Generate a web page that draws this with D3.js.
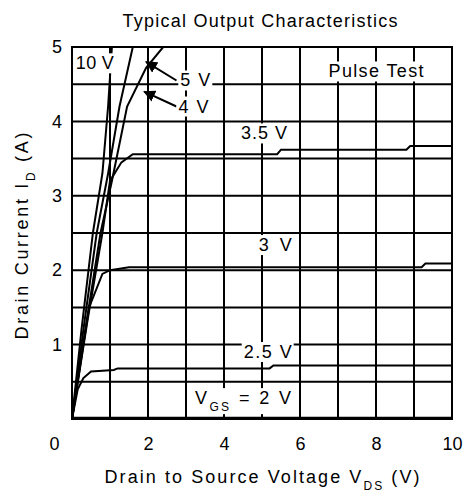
<!DOCTYPE html>
<html><head><meta charset="utf-8">
<script src="https://cdn.jsdelivr.net/npm/d3@7"></script>
<style>
html,body{margin:0;padding:0;background:#fff;}
text{font-family:"Liberation Sans",Arial,sans-serif;fill:#000;}
</style></head>
<body><div id="chart"></div>
<script>
const title = "Typical Output Characteristics";
const xTicks = [0, 2, 4, 6, 8, 10];
const yTicks = [1, 2, 3, 4, 5];
const xGrid = [0,1,2,3,4,5,6,7,8,9,10];
const yGrid = [0,0.5,1,1.5,2,2.5,3,3.5,4,4.5,5];

const seriesNames = ["10 V", "5 V", "4 V", "3.5 V", "3 V", "2.5 V", "2 V"];
const vds10 = [0, 0.25, 0.55, 0.8, 0.95, 1.05];
const id10  = [0, 1.2, 2.5, 3.3, 4.2, 5.0];
const vds5 = [0, 0.3, 0.65, 0.95, 1.25, 1.6];
const id5  = [0, 1.2, 2.5, 3.3, 4.2, 5.0];
const vds4 = [0, 0.35, 0.75, 1.05, 1.45, 1.95, 2.4];
const id4  = [0, 1.2, 2.5, 3.2, 4.2, 4.72, 5.0];
const vds35 = [0, 0.4, 0.8, 1.0, 1.3, 1.6, 5.4, 5.5, 8.8, 8.9, 10];
const id35  = [0, 1.3, 2.5, 3.2, 3.45, 3.56, 3.56, 3.62, 3.62, 3.67, 3.67];
const vds3 = [0, 0.45, 0.8, 1.0, 1.5, 9.2, 9.3, 10];
const id3  = [0, 1.5, 1.95, 2.0, 2.04, 2.04, 2.09, 2.09];
const vds25 = [0, 0.15, 0.3, 0.5, 1.1, 1.2, 5.2, 5.3, 10];
const id25  = [0, 0.4, 0.55, 0.64, 0.66, 0.68, 0.68, 0.72, 0.72];
const vds2 = [0, 10];
const id2  = [0.01, 0.01];

const W = 464, H = 492;
const svg = d3.select("#chart").append("svg").attr("width", W).attr("height", H);
const x = d3.scaleLinear().domain([0, 10]).range([72, 452]);
const y = d3.scaleLinear().domain([0, 5]).range([419, 47]);

// grid
svg.append("g").selectAll("line.v").data(xGrid).join("line")
  .attr("x1", d => x(d)).attr("x2", d => x(d)).attr("y1", y(0)).attr("y2", y(5))
  .attr("stroke", "#000").attr("stroke-width", 2);
svg.append("g").selectAll("line.h").data(yGrid).join("line")
  .attr("y1", d => y(d)).attr("y2", d => y(d)).attr("x1", x(0)).attr("x2", x(10))
  .attr("stroke", "#000").attr("stroke-width", 2);

// axes (labels only)
const xAxis = svg.append("g").attr("transform", `translate(0,${y(0)})`)
  .call(d3.axisBottom(x).tickValues(xTicks).tickSize(0).tickPadding(18).tickFormat(d3.format("d")));
xAxis.select(".domain").remove();
xAxis.selectAll("text").style("font-size", "18px").attr("font-family", "Liberation Sans, Arial");
xAxis.selectAll(".tick").filter(d => d === 0).select("text").attr("dx", -18);
const yAxis = svg.append("g").attr("transform", `translate(${x(0)},0)`)
  .call(d3.axisLeft(y).tickValues(yTicks).tickSize(0).tickPadding(10).tickFormat(d3.format("d")));
yAxis.select(".domain").remove();
yAxis.selectAll("text").style("font-size", "18px");

// labels with white background helper
function label(txt, cx, by, opts = {}) {
  const g = svg.append("g");
  const t = g.append("text").attr("x", cx).attr("y", by).attr("text-anchor", opts.anchor || "middle")
    .style("font-size", (opts.size || 17) + "px");
  if (Array.isArray(txt)) {
    txt.forEach(p => {
      const ts = t.append("tspan").text(p.t);
      if (p.sub) ts.attr("baseline-shift", "sub").style("font-size", "12px");
    });
  } else t.text(txt);
  if (opts.len) t.attr("textLength", opts.len).attr("lengthAdjust", "spacing");
  if (opts.bg) {
    const b = t.node().getBBox();
    g.insert("rect", "text").attr("x", b.x - 2).attr("y", b.y).attr("width", b.width + 4)
      .attr("height", b.height).attr("fill", "#fff");
  }
  return g;
}

// curves
const line = d3.line().x(d => x(d[0])).y(d => y(d[1]));
const seriesData = [[vds10, id10], [vds5, id5], [vds4, id4], [vds35, id35], [vds3, id3], [vds25, id25], [vds2, id2]];
svg.append("defs").append("clipPath").attr("id", "clip").append("rect")
  .attr("x", x(0)).attr("y", y(5)).attr("width", x(10) - x(0)).attr("height", y(0) - y(5));
svg.append("g").attr("clip-path", "url(#clip)").selectAll("path").data(seriesData).join("path")
  .attr("d", s => line(s[0].map((v, i) => [v, s[1][i]])))
  .attr("fill", "none").attr("stroke", "#000").attr("stroke-width", (d, i) => i === 6 ? 3 : 2);

// border
svg.append("rect").attr("x", x(0)).attr("y", y(5)).attr("width", x(10) - x(0)).attr("height", y(0) - y(5))
  .attr("fill", "none").attr("stroke", "#000").attr("stroke-width", 2);

// arrows
svg.append("defs").append("marker").attr("id", "ah").attr("viewBox", "0 0 10 10")
  .attr("refX", 9).attr("refY", 5).attr("markerWidth", 6).attr("markerHeight", 6).attr("orient", "auto")
  .append("path").attr("d", "M0,0L10,5L0,10z").attr("fill", "#000");
svg.append("line").attr("x1", x(2.75)).attr("y1", y(4.55)).attr("x2", x(1.95)).attr("y2", y(4.8))
  .attr("stroke", "#000").attr("stroke-width", 2).attr("marker-end", "url(#ah)");
svg.append("line").attr("x1", x(2.75)).attr("y1", y(4.2)).attr("x2", x(1.9)).attr("y2", y(4.4))
  .attr("stroke", "#000").attr("stroke-width", 2).attr("marker-end", "url(#ah)");

label("10 V", x(0.1), y(4.7), {anchor: "start", bg: true, size: 18, len: 38});
label("5 V", x(2.85), y(4.55) + 6, {anchor: "start", bg: true, size: 18, len: 30});
label("4 V", x(2.8), y(4.2) + 6, {anchor: "start", bg: true, size: 18, len: 30});
label("3.5 V", x(5.05), y(3.65) - 8, {bg: true, size: 18, len: 46});
label("3 V", x(5.35), y(2.15) - 8, {bg: true, size: 18, len: 33});
label("2.5 V", x(5.15), y(0.82), {bg: true, size: 18, len: 48});
label([{t: "V"}, {t: "GS", sub: true}, {t: " = 2  V"}], x(4.5), y(0.2), {bg: true, size: 18, len: 96});
label("Pulse Test", x(8.0), y(4.55) - 3, {bg: true, size: 18, len: 95});

// title and axis titles
svg.append("text").attr("x", 260).attr("y", 27).attr("text-anchor", "middle")
  .attr("textLength", 275).attr("lengthAdjust", "spacing")
  .style("font-size", "18px").text(title);
const xt = svg.append("text").attr("x", 262).attr("y", 483).attr("text-anchor", "middle").style("font-size", "18px")
  .attr("textLength", 315).attr("lengthAdjust", "spacing");
xt.append("tspan").text("Drain to Source Voltage  V");
xt.append("tspan").text("DS").attr("baseline-shift", "sub").style("font-size", "12px");
xt.append("tspan").text(" (V)");
const yt = svg.append("text").attr("transform", "translate(28,236) rotate(-90)").attr("text-anchor", "middle").style("font-size", "18px")
  .attr("textLength", 207).attr("lengthAdjust", "spacing");
yt.append("tspan").text("Drain Current  I");
yt.append("tspan").text("D").attr("baseline-shift", "sub").style("font-size", "12px");
yt.append("tspan").text("  (A)");
</script></body></html>
